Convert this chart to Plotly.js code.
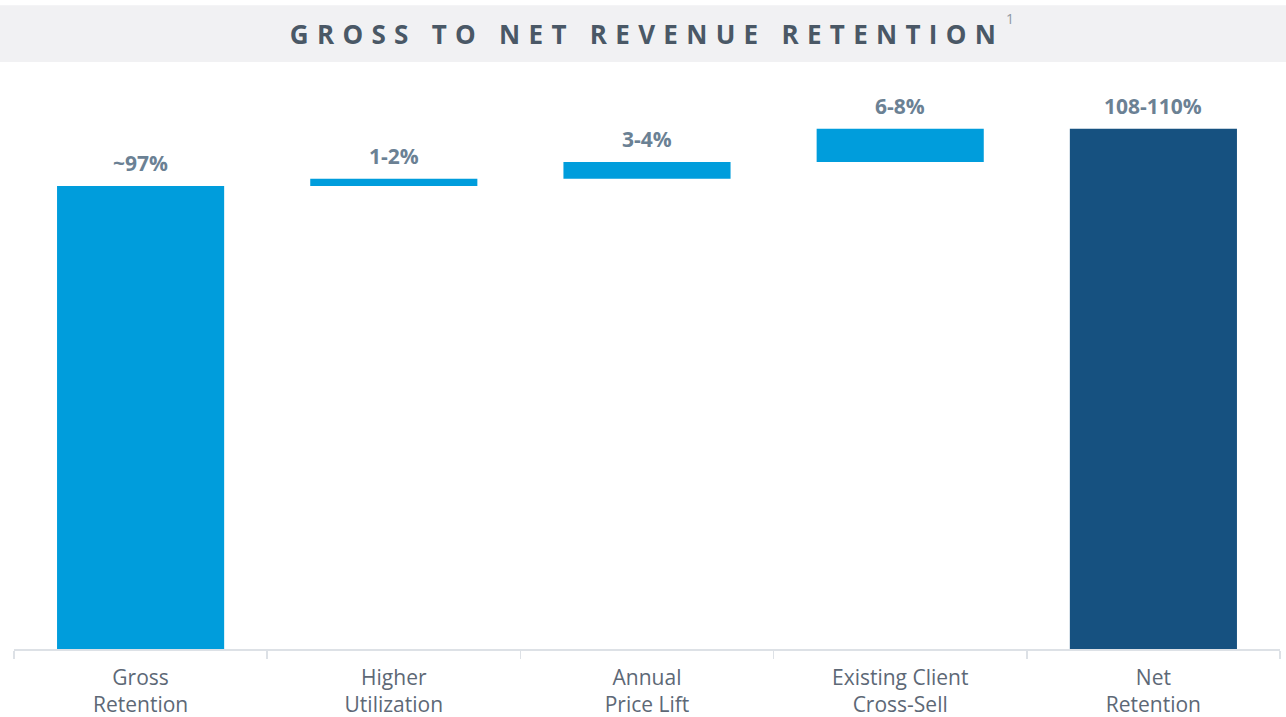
<!DOCTYPE html>
<html>
<head>
<meta charset="utf-8">
<script src="https://cdn.plot.ly/plotly-3.0.1.min.js"></script>
<style>
  html, body { margin: 0; padding: 0; background: #ffffff; }
  #chart { width: 1286px; height: 717px; }
  .gtitle { letter-spacing: 8.3px; }
</style>
</head>
<body>
<div id="chart"></div>
<script>
// ---- Data ----
const categories = ["Gross<br>Retention", "Higher<br>Utilization", "Annual<br>Price Lift", "Existing Client<br>Cross-Sell", "Net<br>Retention"];
const measures = ["absolute", "relative", "relative", "relative", "total"];
const values = [97, 1.5, 3.5, 7, 109];
const valueLabels = ["~97%", "1-2%", "3-4%", "6-8%", "108-110%"];
const barColors = ["#009ddc", "#009ddc", "#009ddc", "#009ddc", "#165180"];

// bases built from the data (waterfall logic)
const bases = [];
let running = 0;
for (let i = 0; i < values.length; i++) {
  if (measures[i] === "absolute" || measures[i] === "total") {
    bases.push(0);
    running = values[i];
  } else {
    bases.push(running);
    running += values[i];
  }
}
const tops = values.map((v, i) => bases[i] + v);

const trace = {
  type: "bar",
  x: categories,
  y: values,
  base: bases,
  width: 0.66,
  marker: { color: barColors, line: { width: 0 } },
  hoverinfo: "skip"
};

const annotations = categories.map((c, i) => ({
  x: c, y: tops[i], xref: "x", yref: "y",
  text: "<b>" + valueLabels[i] + "</b>",
  showarrow: false, yanchor: "bottom", yshift: 7,
  font: { family: "Open Sans, sans-serif", size: 21, color: "#6b8194" }
}));
annotations.push({
  x: (1004 - 14) / 1266, y: (649 - 19) / 579, xref: "paper", yref: "paper",
  xanchor: "left", yanchor: "middle",
  text: "1", showarrow: false,
  font: { family: "Open Sans, sans-serif", size: 14, color: "#8f98a2" }
});

const layout = {
  width: 1286, height: 717,
  margin: { l: 14, r: 6, t: 70, b: 68, pad: 0 },
  paper_bgcolor: "#ffffff", plot_bgcolor: "#ffffff",
  showlegend: false,
  title: {
    text: "<b>GROSS TO NET REVENUE RETENTION</b>",
    x: (647 / 1286), xanchor: "center", xref: "container",
    y: 1 - 35 / 717, yanchor: "middle", yref: "container",
    font: { family: "Open Sans, sans-serif", size: 26, color: "#4a5866" }
  },
  xaxis: {
    type: "category",
    range: [-0.5, 4.5],
    showline: true, linecolor: "#dde1e6", linewidth: 1.5,
    ticks: "outside", tickson: "boundaries", ticklen: 8, tickcolor: "#dde1e6", tickwidth: 1.5,
    ticklabelstandoff: 9,
    showgrid: false, zeroline: false,
    tickfont: { family: "Open Sans, sans-serif", size: 21, color: "#5d6876" },
    fixedrange: true
  },
  yaxis: {
    range: [0, 121.3],
    visible: false, showgrid: false, zeroline: false, fixedrange: true
  },
  shapes: [{
    type: "rect", xref: "paper", yref: "paper", layer: "below",
    x0: -0.012, x1: 1.006, y0: 1.0138, y1: 1.112,
    fillcolor: "#f1f1f3", line: { width: 0 }
  }],
  annotations: annotations
};

Plotly.newPlot("chart", [trace], layout, { displayModeBar: false, staticPlot: true });
</script>
</body>
</html>
